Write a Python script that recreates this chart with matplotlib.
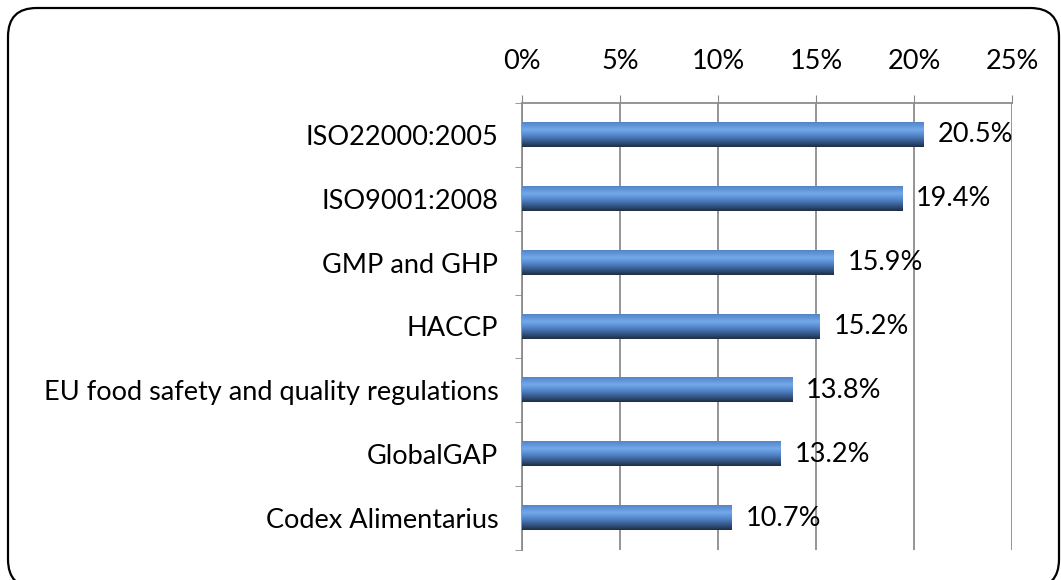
import matplotlib.pyplot as plt
import numpy as np
from matplotlib.patches import FancyBboxPatch
from matplotlib.ticker import MultipleLocator, FuncFormatter

plt.rcParams['font.family'] = ['Lato', 'DejaVu Sans']

# standards, listed top to bottom
labels = ['ISO22000:2005', 'ISO9001:2008', 'GMP and GHP', 'HACCP',
          'EU food safety and quality regulations', 'GlobalGAP', 'Codex Alimentarius']
values = [20.5, 19.4, 15.9, 15.2, 13.8, 13.2, 10.7]

FS = 19.5

fig = plt.figure(figsize=(10.61, 5.80), dpi=100)
ax = fig.add_axes([522 / 1061, 30 / 580, 490 / 1061, 447 / 580])

# rounded outer frame (runs slightly past the lower right edge)
frame = FancyBboxPatch((8 / 1061, -8 / 580), 1051 / 1061, 580 / 580,
                       boxstyle="round,pad=0,rounding_size=0.027",
                       transform=fig.transFigure, fill=False,
                       edgecolor='black', linewidth=1.6, mutation_aspect=1061 / 580)
fig.patches.append(frame)

# vertical shading for the bars: light highlight above centre, dark below
stops = np.array([0.0, 0.3, 0.55, 0.8, 1.0])
top_to_bottom = np.array([
    [0.33, 0.52, 0.78],
    [0.45, 0.66, 0.92],
    [0.32, 0.52, 0.78],
    [0.20, 0.33, 0.52],
    [0.12, 0.18, 0.28],
])
t = np.linspace(0, 1, 64)
grad = np.stack([np.interp(t, stops, top_to_bottom[:, c]) for c in range(3)], axis=1)
grad = grad[:, None, :]

y = np.arange(len(labels))
h = 0.38
for yi, v in zip(y, values):
    ax.imshow(grad, extent=[0, v, yi + h / 2, yi - h / 2], aspect='auto',
              interpolation='bilinear', zorder=3)
    ax.text(v + 0.7, yi, f'{v:.1f}%', va='center', ha='left', fontsize=FS, zorder=4)

ax.set_xlim(0, 25)
ax.set_ylim(len(labels) - 0.5, -0.5)
ax.xaxis.set_major_locator(MultipleLocator(5))
ax.xaxis.set_major_formatter(FuncFormatter(lambda x, p: f'{x:.0f}%'))
ax.xaxis.tick_top()
ax.tick_params(axis='x', direction='out', length=6, color='#888888', pad=15, labelsize=FS)
ax.set_yticks(y)
ax.set_yticklabels(labels, fontsize=FS)
ax.set_yticks(np.arange(len(labels) + 1) - 0.5, minor=True)
ax.tick_params(axis='y', which='major', length=0, pad=17)
ax.tick_params(axis='y', which='minor', direction='out', length=5, color='#888888')
ax.grid(axis='x', color='#8c8c8c', linewidth=1.3, zorder=0)
ax.set_axisbelow(True)
for side in ['right', 'bottom']:
    ax.spines[side].set_visible(False)
for side in ['left', 'top']:
    ax.spines[side].set_color('#8c8c8c')
    ax.spines[side].set_linewidth(1.3)

fig.savefig('out.png', dpi=100)
